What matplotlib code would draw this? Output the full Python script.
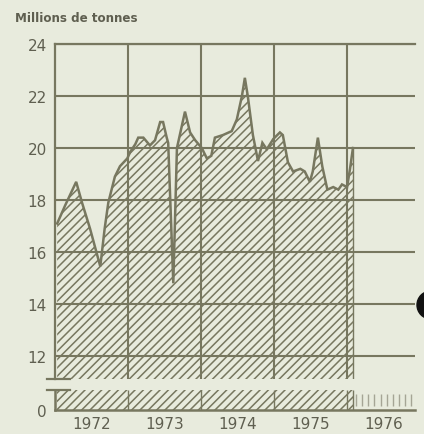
import matplotlib
matplotlib.use("Agg")
import matplotlib.pyplot as plt
from matplotlib.patches import Circle

# colours of the scanned page
BG = "#e8ebdd"
INK = "#77775f"
TXT = "#5f5f50"

# data (decimal years, millions of tonnes)
years = [1972.03, 1972.14, 1972.29, 1972.37, 1972.48, 1972.62, 1972.68, 1972.73,
         1972.82, 1972.89, 1972.99, 1973.03, 1973.10, 1973.14, 1973.21, 1973.30,
         1973.37, 1973.44, 1973.48, 1973.53, 1973.55, 1973.62, 1973.67, 1973.78,
         1973.85, 1973.92, 1974.01, 1974.08, 1974.14, 1974.19, 1974.30, 1974.42,
         1974.49, 1974.56, 1974.60, 1974.64, 1974.71, 1974.78, 1974.84, 1974.90,
         1974.99, 1975.08, 1975.12, 1975.19, 1975.26, 1975.36, 1975.42, 1975.49,
         1975.53, 1975.60, 1975.66, 1975.73, 1975.81, 1975.88, 1975.93, 1976.00,
         1976.04, 1976.08]
tonnes = [17.1, 17.8, 18.7, 17.9, 16.9, 15.45, 16.9, 17.9,
          18.9, 19.3, 19.6, 19.85, 20.15, 20.4, 20.4, 20.1,
          20.3, 21.0, 21.0, 20.4, 20.2, 14.8, 20.0, 21.4,
          20.6, 20.3, 20.0, 19.6, 19.7, 20.4, 20.5, 20.65,
          21.1, 22.0, 22.7, 22.0, 20.5, 19.5, 20.2, 19.95,
          20.35, 20.6, 20.5, 19.45, 19.1, 19.2, 19.1, 18.7,
          19.1, 20.4, 19.3, 18.4, 18.5, 18.4, 18.6, 18.5,
          19.2, 20.0]
yticks = [12, 14, 16, 18, 20, 22, 24]
year_bounds = [1973, 1974, 1975, 1976]
year_labels = [1972, 1973, 1974, 1975, 1976]
months_1976 = [1976 + (k + 0.5) / 12 for k in range(1, 12)]

W, H = 424, 435
plt.rcParams["hatch.linewidth"] = 1.1
plt.rcParams["hatch.color"] = INK

fig = plt.figure(figsize=(W / 100, H / 100), dpi=100, facecolor=BG)

left = 55 / W
width = 360 / W
xmax = 1976.93
top_lo = 11.12

# upper (broken) part of the axis
ax = fig.add_axes([left, (H - 380) / H, width, 335 / H])
ax.set_facecolor("none")
ax.set_xlim(1972, xmax)
ax.set_ylim(top_lo, 24)
for s in ["right", "bottom"]:
    ax.spines[s].set_visible(False)
for s in ["left", "top"]:
    ax.spines[s].set_color(INK)
    ax.spines[s].set_linewidth(1.6)
ax.set_yticks(yticks)
ax.set_yticklabels([str(v) for v in yticks])
ax.set_xticks(year_bounds)
ax.set_xticklabels([])
ax.tick_params(length=0, labelsize=11, labelcolor=TXT, pad=6)
ax.grid(True, color=INK, linewidth=1.5)

ax.fill_between(years, top_lo, tonnes, facecolor="none", edgecolor=INK,
                hatch="////", linewidth=0)
ax.plot(years, tonnes, color=INK, linewidth=1.8, solid_joinstyle="miter")
ax.vlines(years[-1], top_lo, tonnes[-1], color=INK, linewidth=1.0)

# break marks
ax.plot([-8 / 360, 15 / 360], [0, 0], transform=ax.transAxes, color=INK,
        linewidth=1.6, clip_on=False)

# lower band near zero
ax2 = fig.add_axes([left, 24 / H, width, 20 / H])
ax2.set_facecolor("none")
ax2.set_xlim(1972, xmax)
ax2.set_ylim(0, 0.77)
for s in ["right", "top"]:
    ax2.spines[s].set_visible(False)
for s in ["left", "bottom"]:
    ax2.spines[s].set_color(INK)
    ax2.spines[s].set_linewidth(1.8)
ax2.set_yticks([0])
ax2.set_yticklabels(["0"])
ax2.set_xticks([y + 0.5 for y in year_labels])
ax2.set_xticklabels([str(y) for y in year_labels])
ax2.tick_params(axis="y", length=0, labelsize=11, labelcolor=TXT, pad=6)
ax2.tick_params(axis="x", length=0, labelsize=11, labelcolor=TXT, pad=4)
ax2.fill_between([years[0], years[-1]], 0, 0.77, facecolor="none",
                 edgecolor=INK, hatch="////", linewidth=0)
ax2.vlines(year_bounds, 0, 0.77, color=INK, linewidth=1.0)
ax2.vlines(years[-1], 0, 0.77, color=INK, linewidth=1.0)
ax2.vlines(months_1976, 0.15, 0.6, color="#a5a595", linewidth=1.0)
ax2.plot([-8 / 360, 15 / 360], [1, 1], transform=ax2.transAxes, color=INK,
         linewidth=1.6, clip_on=False)

fig.text(15 / W, 1 - 18 / H, "Millions de tonnes", fontsize=8.6,
         fontweight="bold", color=TXT, va="center", ha="left")

# dark blot at the right edge of the scan
fig.patches.append(Circle((431, H - 306), 14, transform=None, color="#111111"))

fig.savefig("out.png", dpi=100, facecolor=BG)
